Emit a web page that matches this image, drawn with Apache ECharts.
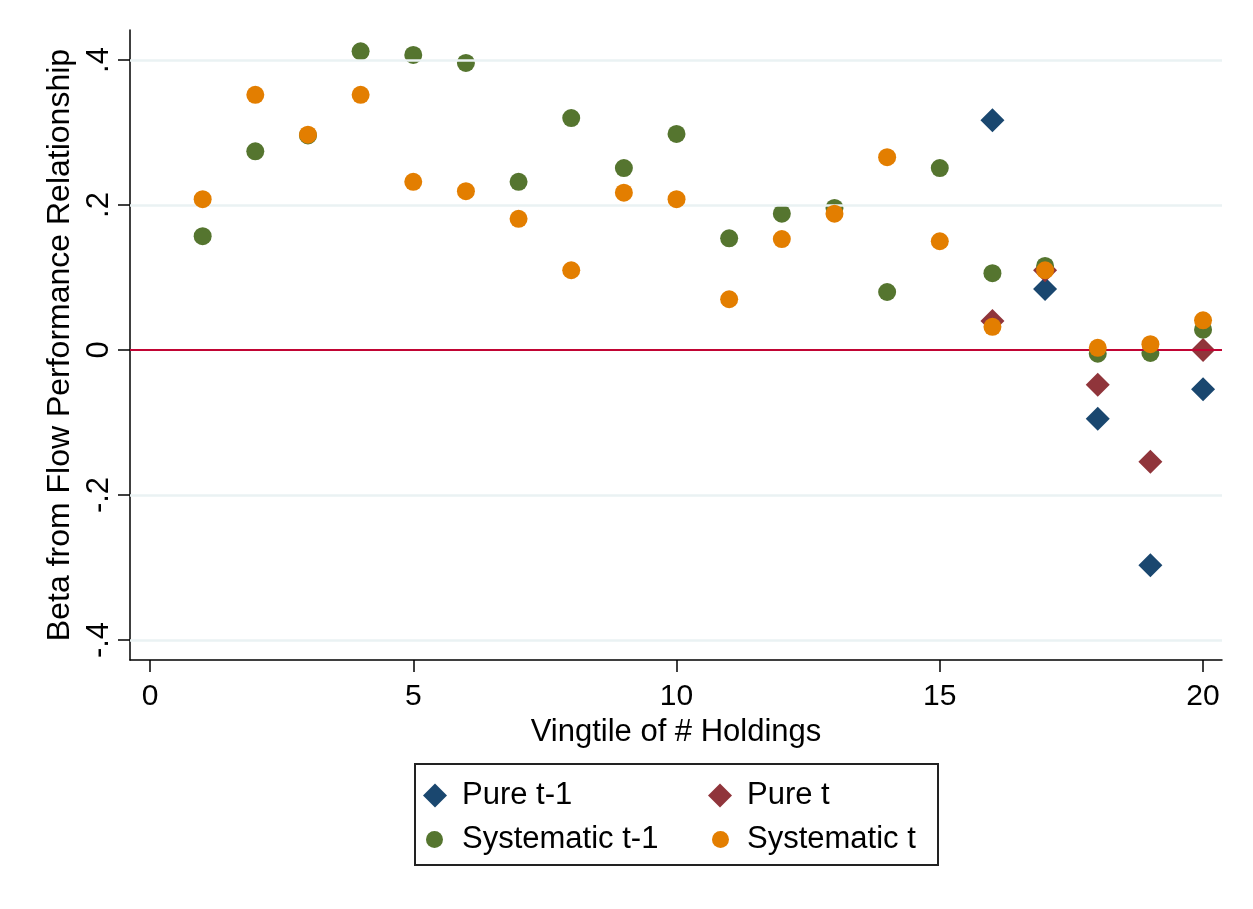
<!DOCTYPE html>
<html>
<head>
<meta charset="utf-8">
<script src="https://cdn.jsdelivr.net/npm/echarts@6/dist/echarts.min.js"></script>
<style>
  html, body { margin: 0; padding: 0; background: #fff; }
  #chart { width: 1253px; height: 909px; }
</style>
</head>
<body>
<div id="chart"></div>
<script>
// Vingtiles of number of holdings
const vingtiles = [1,2,3,4,5,6,7,8,9,10,11,12,13,14,15,16,17,18,19,20];
const pureVingtiles = [16,17,18,19,20];

// Betas from the flow-performance regressions
const pureLag = [0.317, 0.084, -0.095, -0.297, -0.054];
const pureCur = [0.040, 0.110, -0.048, -0.154, 0.000];
const systematicLag = [0.157, 0.274, 0.296, 0.412, 0.407, 0.396, 0.232, 0.320, 0.251, 0.298,
                       0.154, 0.188, 0.196, 0.080, 0.251, 0.106, 0.116, -0.005, -0.004, 0.028];
const systematicCur = [0.208, 0.352, 0.297, 0.352, 0.232, 0.219, 0.181, 0.110, 0.217, 0.208,
                       0.070, 0.153, 0.188, 0.266, 0.150, 0.032, 0.110, 0.003, 0.008, 0.041];

// Axis ticks
const xTicks = [0, 5, 10, 15, 20];
const yTicks = [-0.4, -0.2, 0, 0.2, 0.4];
const gridValues = [-0.4, -0.2, 0.2, 0.4];

const FONT = '"Liberation Sans", Arial, sans-serif';
const C = { navy: '#1a476f', maroon: '#90353b', green: '#55752f', orange: '#e37e00' };

const pairs = (xs, ys) => xs.map((x, i) => [x, ys[i]]);
const fmtY = v => {
  const r = Math.round(v * 10) / 10;
  if (r === 0) return '0';
  return (r < 0 ? '-' : '') + String(Math.abs(r)).replace(/^0/, '');
};

function legendItem(name, icon, size, left, top, pad) {
  return {
    data: [name], left: left, top: top, orient: 'vertical', padding: 0,
    icon: icon, itemWidth: size, itemHeight: size, selectedMode: false,
    textStyle: { fontFamily: FONT, fontSize: 31, color: '#000', padding: [0, 0, 0, pad] }
  };
}

const chart = echarts.init(document.getElementById('chart'), null, { renderer: 'canvas' });
chart.setOption({
  backgroundColor: '#fff',
  animation: false,
  grid: { left: 130, right: 31, top: 30, bottom: 249, containLabel: false },
  xAxis: {
    type: 'value', min: -0.38, max: 20.36,
    name: 'Vingtile of # Holdings', nameLocation: 'middle', nameGap: 48,
    nameTextStyle: { fontFamily: FONT, fontSize: 31, color: '#000' },
    axisLine: { show: true, onZero: false, lineStyle: { color: '#000', width: 1.5 } },
    axisTick: { show: true, length: 12, customValues: xTicks, lineStyle: { color: '#000', width: 1.5 } },
    axisLabel: { customValues: xTicks, margin: 22, fontFamily: FONT, fontSize: 30, color: '#000' },
    splitLine: { show: false }
  },
  yAxis: {
    type: 'value', min: -0.4276, max: 0.4414,
    name: 'Beta from Flow Performance Relationship', nameLocation: 'middle', nameGap: 50,
    nameTextStyle: { fontFamily: FONT, fontSize: 32, color: '#000' },
    axisLine: { show: true, onZero: false, lineStyle: { color: '#000', width: 1.5 } },
    axisTick: { show: true, length: 12, customValues: yTicks, lineStyle: { color: '#000', width: 1.5 } },
    axisLabel: { customValues: yTicks, rotate: 90, margin: 15, fontFamily: FONT, fontSize: 31, color: '#000', formatter: fmtY },
    splitLine: { show: false }
  },
  legend: [
    legendItem('Pure t-1', 'diamond', 24, 423, 780, 10),
    legendItem('Systematic t-1', 'circle', 17, 426, 824, 14),
    legendItem('Pure t', 'diamond', 24, 708, 780, 10),
    legendItem('Systematic t', 'circle', 17, 712, 824, 13)
  ],
  graphic: [{
    type: 'rect', z: -1,
    shape: { x: 415, y: 764, width: 523, height: 101 },
    style: { fill: '#fff', stroke: '#222', lineWidth: 2 }
  }],
  series: [
    {
      // reference lines: light grid and the zero line
      type: 'line', data: [], silent: true,
      markLine: {
        silent: true, symbol: 'none', label: { show: false }, animation: false,
        data: gridValues.map(v => ({ yAxis: v, lineStyle: { color: '#eaf2f3', width: 2.5, type: 'solid' } }))
          .concat([{ yAxis: 0, lineStyle: { color: '#c10534', width: 2, type: 'solid' } }])
      },
      z: 1
    },
    { name: 'Pure t-1', type: 'scatter', symbol: 'diamond', symbolSize: 24, z: 2,
      itemStyle: { color: C.navy, opacity: 1 }, data: pairs(pureVingtiles, pureLag) },
    { name: 'Pure t', type: 'scatter', symbol: 'diamond', symbolSize: 24, z: 3,
      itemStyle: { color: C.maroon, opacity: 1 }, data: pairs(pureVingtiles, pureCur) },
    { name: 'Systematic t-1', type: 'scatter', symbol: 'circle', symbolSize: 18, z: 4,
      itemStyle: { color: C.green, opacity: 1 }, data: pairs(vingtiles, systematicLag) },
    { name: 'Systematic t', type: 'scatter', symbol: 'circle', symbolSize: 18, z: 5,
      itemStyle: { color: C.orange, opacity: 1 }, data: pairs(vingtiles, systematicCur) }
  ]
});
</script>
</body>
</html>
